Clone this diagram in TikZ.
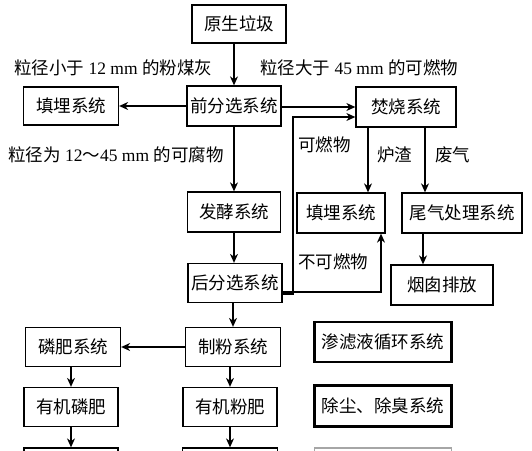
\documentclass[tikz,border=0pt]{standalone}
\usepackage{fontspec}
\setmainfont{Liberation Serif}
\newfontfamily\cjk{Noto Sans CJK SC}
\usetikzlibrary{arrows.meta}
\tikzset{
  box/.style={draw, line width=1.3pt, inner sep=0pt, minimum height=39pt, font=\cjk\fontsize{17.5pt}{20pt}\selectfont},
  thickbox/.style={box, line width=2.8pt},
  lbl/.style={anchor=west, inner sep=0pt, font=\fontsize{17.5pt}{20pt}\selectfont},
  clbl/.style={lbl, font=\cjk\fontsize{17.5pt}{20pt}\selectfont},
  arr/.style={line width=1.1pt, -{Stealth[length=9pt,width=8pt]}},
  ln/.style={line width=1.1pt}
}
\begin{document}
\begin{tikzpicture}[x=1pt,y=-1pt]
\useasboundingbox (0,0) rectangle (532,450);
\clip (0,0) rectangle (532,450);
\node[box, minimum width=94pt, minimum height=38pt] (raw) at (239,24) {原生垃圾};
\node[box, minimum width=94pt, minimum height=40pt] (pre) at (234,106) {前分选系统};
\node[box, minimum width=95pt, minimum height=38pt] (fillL) at (71,106) {填埋系统};
\node[box, minimum width=100pt, minimum height=40pt] (inc) at (406,107) {焚烧系统};
\node[box, minimum width=93pt, minimum height=40pt] (ferm) at (234,212) {发酵系统};
\node[box, minimum width=88pt, minimum height=40pt] (fillM) at (341,213) {填埋系统};
\node[box, minimum width=120pt, minimum height=40pt] (tail) at (462,213) {尾气处理系统};
\node[box, minimum width=94pt, minimum height=39pt] (post) at (235,283) {后分选系统};
\node[box, minimum width=102pt, minimum height=40pt] (chim) at (442,285) {烟囱排放};
\node[box, minimum width=95pt, minimum height=39pt] (powder) at (233,347) {制粉系统};
\node[box, minimum width=95pt, minimum height=39pt] (phos) at (73,347) {磷肥系统};
\node[thickbox, minimum width=137pt, minimum height=40pt] (leach) at (383,342) {渗滤液循环系统};
\node[box, minimum width=94pt, minimum height=39pt] (orgP) at (71,407) {有机磷肥};
\node[box, minimum width=94pt, minimum height=39pt] (orgF) at (230,407) {有机粉肥};
\node[thickbox, minimum width=137pt, minimum height=41pt] (dust) at (383,406) {除尘、除臭系统};
\node[box, minimum width=94pt, minimum height=30pt] (botL) at (71,463) {};
\node[box, minimum width=95pt, minimum height=30pt] (botM) at (230,463) {};
\node[box, draw=black!35, minimum width=137pt, minimum height=30pt] (botR) at (383,463) {};
% labels
\node[lbl] (l1) at (14,68) {{\cjk 粒径小于} 12 mm {\cjk 的粉煤灰}};
\node[lbl] (l2) at (260,68) {{\cjk 粒径大于} 45 mm {\cjk 的可燃物}};
\node[lbl] (l3) at (8,155) {{\cjk 粒径为} 12{\cjk ～}45 mm {\cjk 的可腐物}};
\node[clbl] (l4) at (298,145) {可燃物};
\node[clbl] (l5) at (377,155) {炉渣};
\node[clbl] (l6) at (435,155) {废气};
\node[clbl] (l7) at (298,262) {不可燃物};
% connectors
\draw[arr] (pre.north |- raw.south) -- (pre.north);
\draw[arr] (pre.west) -- (fillL.east);
\draw[arr] (pre.east |- inc.west) -- (inc.west);
\draw[arr] (pre.south) -- (ferm.north);
\draw[arr] (ferm.south) -- (ferm.south |- post.north);
\coordinate (c1) at (293,117);
\draw[arr] ([yshift=-11pt]post.east) -| (c1) -- (c1 -| inc.west);
\coordinate (c2) at (381,292);
\draw[arr] (post.east |- c2) -- (c2) -- (c2 |- fillM.south);
\coordinate (c3) at (368,0);
\draw[arr] (c3 |- inc.south) -- (c3 |- fillM.north);
\coordinate (c4) at (425,0);
\draw[arr] (c4 |- inc.south) -- (c4 |- tail.north);
\coordinate (c5) at (423,0);
\draw[arr] (c5 |- tail.south) -- (c5 |- chim.north);
\draw[arr] (powder.north |- post.south) -- (powder.north);
\draw[arr] (powder.west) -- (phos.east);
\draw[arr] (orgP.north |- phos.south) -- (orgP.north);
\draw[arr] (orgF.north |- powder.south) -- (orgF.north);
\draw[arr] (orgP.south) -- (botL.north);
\draw[arr] (orgF.south) -- (botM.north);
\end{tikzpicture}
\end{document}
